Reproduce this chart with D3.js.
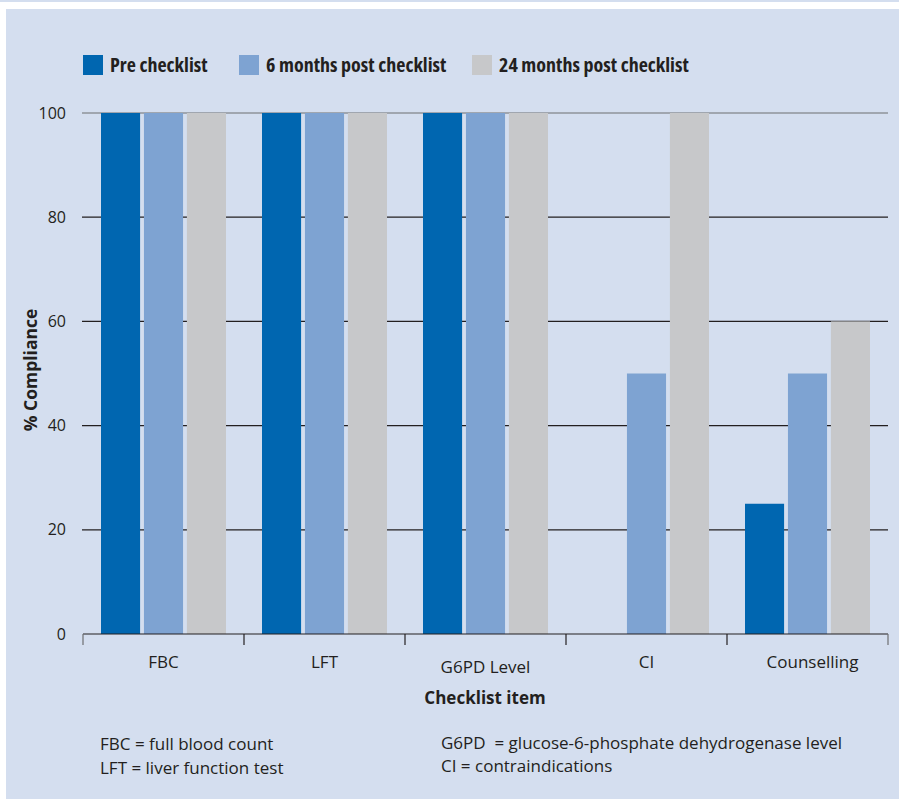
<!DOCTYPE html>
<html>
<head>
<meta charset="utf-8">
<script src="https://cdn.jsdelivr.net/npm/d3@7"></script>
<style>
  html, body { margin:0; padding:0; background:#fff; }
  svg text { font-family: "Open Sans", "Noto Sans", sans-serif; fill:#231f20; }
</style>
</head>
<body>
<div id="chart"></div>
<script>
// Checklist compliance — grouped bars
const categories = ["FBC", "LFT", "G6PD Level", "CI", "Counselling"];
const seriesNames = ["Pre checklist", "6 months post checklist", "24 months post checklist"];
const preValues   = [100, 100, 100, 0, 25];
const post6Values = [100, 100, 100, 50, 50];
const post24Values = [100, 100, 100, 100, 60];
const yTicks = [0, 20, 40, 60, 80, 100];
const footLeft = ["FBC = full blood count", "LFT = liver function test"];
const footRight = ["G6PD  = glucose-6-phosphate dehydrogenase level", "CI = contraindications"];

const colors = ["#0066b0", "#7ea3d2", "#c7c8ca"];
const series = [preValues, post6Values, post24Values];

const width = 899, height = 799;
const svg = d3.select("#chart").append("svg")
  .attr("width", width).attr("height", height);

// page bands + panel
svg.append("rect").attr("x",0).attr("y",0).attr("width",width).attr("height",2).attr("fill","#d4deef");
svg.append("rect").attr("x",6).attr("y",9).attr("width",width-6).attr("height",height-9).attr("fill","#d4deef");

const x0 = 83, x1 = 888, yTop = 113, yBot = 634;
const x = d3.scaleBand().domain(categories).range([x0, x1]).paddingInner(0).paddingOuter(0);
const y = d3.scaleLinear().domain([0, 100]).range([yBot, yTop]);
const xs = d3.scaleBand().domain(d3.range(series.length))
  .range([18, x.bandwidth() - 18]).paddingInner(0.09).paddingOuter(0);

// gridlines
const grid = svg.append("g");
grid.selectAll("line").data(yTicks.filter(d => d > 0)).join("line")
  .attr("x1", x0 - 1).attr("x2", x1)
  .attr("y1", d => y(d)).attr("y2", d => y(d))
  .attr("stroke", d => d === 100 ? "#6d6e71" : "#231f20")
  .attr("stroke-width", 1.2);

// y tick labels
svg.append("g").selectAll("text").data(yTicks).join("text")
  .attr("x", 66).attr("y", d => y(d)).attr("dy", "0.35em")
  .attr("text-anchor", "end").attr("font-size", 16)
  .text(d => d);

// bars
const groups = svg.append("g").selectAll("g").data(categories).join("g")
  .attr("transform", d => `translate(${x(d)},0)`);
groups.selectAll("rect").data((c, i) => series.map((s, k) => ({k, v: s[i]}))).join("rect")
  .attr("x", d => xs(d.k)).attr("width", xs.bandwidth())
  .attr("y", d => y(d.v)).attr("height", d => yBot - y(d.v))
  .attr("fill", d => colors[d.k]);

// x axis
const xg = svg.append("g").attr("transform", `translate(0,${yBot})`);
xg.append("line").attr("x1", x0).attr("x2", x1).attr("stroke", "#231f20").attr("stroke-width", 1.2);
const bounds = [...categories.map(c => x(c)), x1];
xg.selectAll("line.tk").data(bounds).join("line").attr("class","tk")
  .attr("x1", d => d).attr("x2", d => d).attr("y1", 0).attr("y2", 11)
  .attr("stroke", (d, i) => (i === 0 || i === bounds.length - 1) ? "#6d6e71" : "#231f20")
  .attr("stroke-width", 1.2);
xg.selectAll("text.cat").data(categories).join("text").attr("class","cat")
  .attr("x", d => x(d) + x.bandwidth() / 2 + (d === "Counselling" ? 5 : 0))
  .attr("y", d => d === "G6PD Level" ? 39 : 34)
  .attr("text-anchor", "middle").attr("font-size", 17)
  .text(d => d);

// axis titles
svg.append("text").attr("x", 485).attr("y", 704).attr("text-anchor","middle")
  .attr("font-size", 17).attr("font-weight", "bold").text("Checklist item");
svg.append("text").attr("transform", "translate(37,370) rotate(-90)")
  .attr("text-anchor","middle").attr("font-size", 17.5).attr("font-weight","bold")
  .text("% Compliance");

// legend
const legX = [83, 239, 472];
const leg = svg.append("g").selectAll("g").data(seriesNames).join("g")
  .attr("transform", (d, i) => `translate(${legX[i]},55)`);
leg.append("rect").attr("width", 20).attr("height", 20).attr("fill", (d, i) => colors[i]);
leg.append("text").attr("x", 27).attr("y", 10).attr("dy", "0.35em")
  .attr("font-size", 20).attr("font-weight", "bold")
  .style("font-stretch", "condensed")
  .text(d => d);

// footnotes
svg.append("g").selectAll("text").data(footLeft).join("text")
  .attr("x", 100).attr("y", (d, i) => 750 + i * 24).attr("font-size", 17).text(d => d);
svg.append("g").selectAll("text").data(footRight).join("text")
  .attr("x", 441).attr("y", (d, i) => 749 + i * 23).attr("font-size", 17)
  .style("white-space", "pre").text(d => d);
</script>
</body>
</html>
